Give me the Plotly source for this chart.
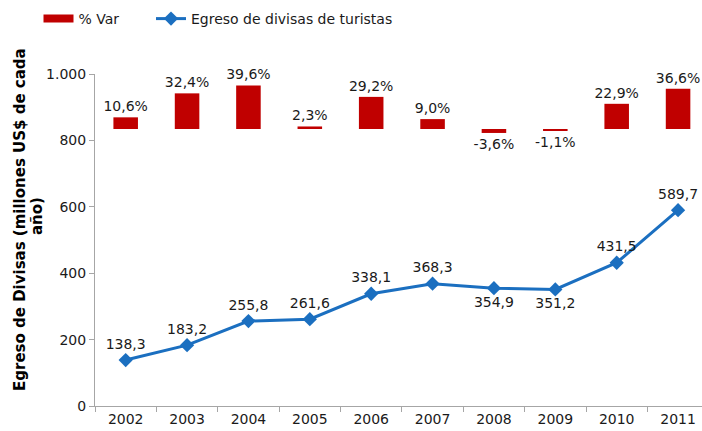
import plotly.graph_objects as go

years = ["2002", "2003", "2004", "2005", "2006", "2007", "2008", "2009", "2010", "2011"]
egreso = [138.3, 183.2, 255.8, 261.6, 338.1, 368.3, 354.9, 351.2, 431.5, 589.7]
var_pct = [10.6, 32.4, 39.6, 2.3, 29.2, 9.0, -3.6, -1.1, 22.9, 36.6]
line_text_pos = ["top center"] * 6 + ["bottom center"] * 2 + ["top center"] * 2
y_ticks = [0, 200, 400, 600, 800, 1000]

FONT = "DejaVu Sans"
TXT = "#1a1a1a"
RED = "#C00000"
BLUE = "#1B6FC0"

fig = go.Figure()
fig.add_trace(go.Bar(
    x=years, y=var_pct, name="% Var", yaxis="y2",
    marker=dict(color=RED, line=dict(width=0)),
    width=0.4,
    texttemplate="%{y:.1f}%", textposition="outside",
    constraintext="none",
    textfont=dict(family=FONT, size=14, color=TXT),
    cliponaxis=False, showlegend=False,
))
# legend-only entry mimicking the wide red legend key
fig.add_trace(go.Scatter(
    x=[None], y=[None], name="% Var", mode="lines",
    line=dict(color=RED, width=8), showlegend=True, legend="legend",
))
fig.add_trace(go.Scatter(
    x=years, y=egreso, name="Egreso de divisas de turistas",
    mode="lines+markers+text",
    line=dict(color=BLUE, width=3),
    marker=dict(symbol="diamond", size=11, color=BLUE),
    texttemplate="%{y:.1f}", textposition=line_text_pos,
    textfont=dict(family=FONT, size=14, color=TXT),
    cliponaxis=False, legend="legend2",
))

legend_common = dict(orientation="h", xref="container", yref="container",
                     y=1 - 3 / 431, xanchor="left", yanchor="top",
                     font=dict(family=FONT, size=14, color=TXT),
                     bgcolor="rgba(0,0,0,0)")

fig.update_layout(
    width=702, height=431,
    margin=dict(l=95, r=0, t=74, b=25),
    paper_bgcolor="white", plot_bgcolor="white",
    separators=",.",
    font=dict(family=FONT, size=14, color=TXT),
    showlegend=True,
    legend=dict(x=38.5 / 702, **legend_common),
    legend2=dict(x=151 / 702, **legend_common),
    xaxis=dict(
        type="category", range=[-0.5, 9.39],
        showline=True, linecolor="#A6A6A6", linewidth=1,
        ticks="outside", tickson="boundaries", ticklen=5, tickcolor="#A6A6A6",
        showgrid=False, zeroline=False, automargin=False,
        tickfont=dict(family=FONT, size=14, color=TXT),
    ),
    yaxis=dict(
        range=[0, 1000], tickvals=y_ticks, tickformat=",d",
        showline=True, linecolor="#A6A6A6", linewidth=1,
        ticks="outside", ticklen=5, tickcolor="#A6A6A6",
        showgrid=False, zeroline=False, automargin=False,
        tickfont=dict(family=FONT, size=14, color=TXT),
    ),
    yaxis2=dict(
        overlaying="y", range=[-251.8, 50], visible=False,
        showgrid=False, zeroline=False,
    ),
    bargap=0.6,
)

fig.add_annotation(
    text="<b>Egreso de Divisas (millones US$ de cada</b>",
    xref="paper", yref="paper", x=(20 - 95) / 607, y=(406 - 220) / 332,
    xanchor="center", yanchor="middle", textangle=-90, showarrow=False,
    font=dict(family=FONT, size=15, color="#000000"),
)
fig.add_annotation(
    text="<b>año)</b>",
    xref="paper", yref="paper", x=(37 - 95) / 607, y=(406 - 216) / 332,
    xanchor="center", yanchor="middle", textangle=-90, showarrow=False,
    font=dict(family=FONT, size=15, color="#000000"),
)

fig.write_html("out.html", config={"displayModeBar": False},
               post_script="document.body.style.margin='0';")
